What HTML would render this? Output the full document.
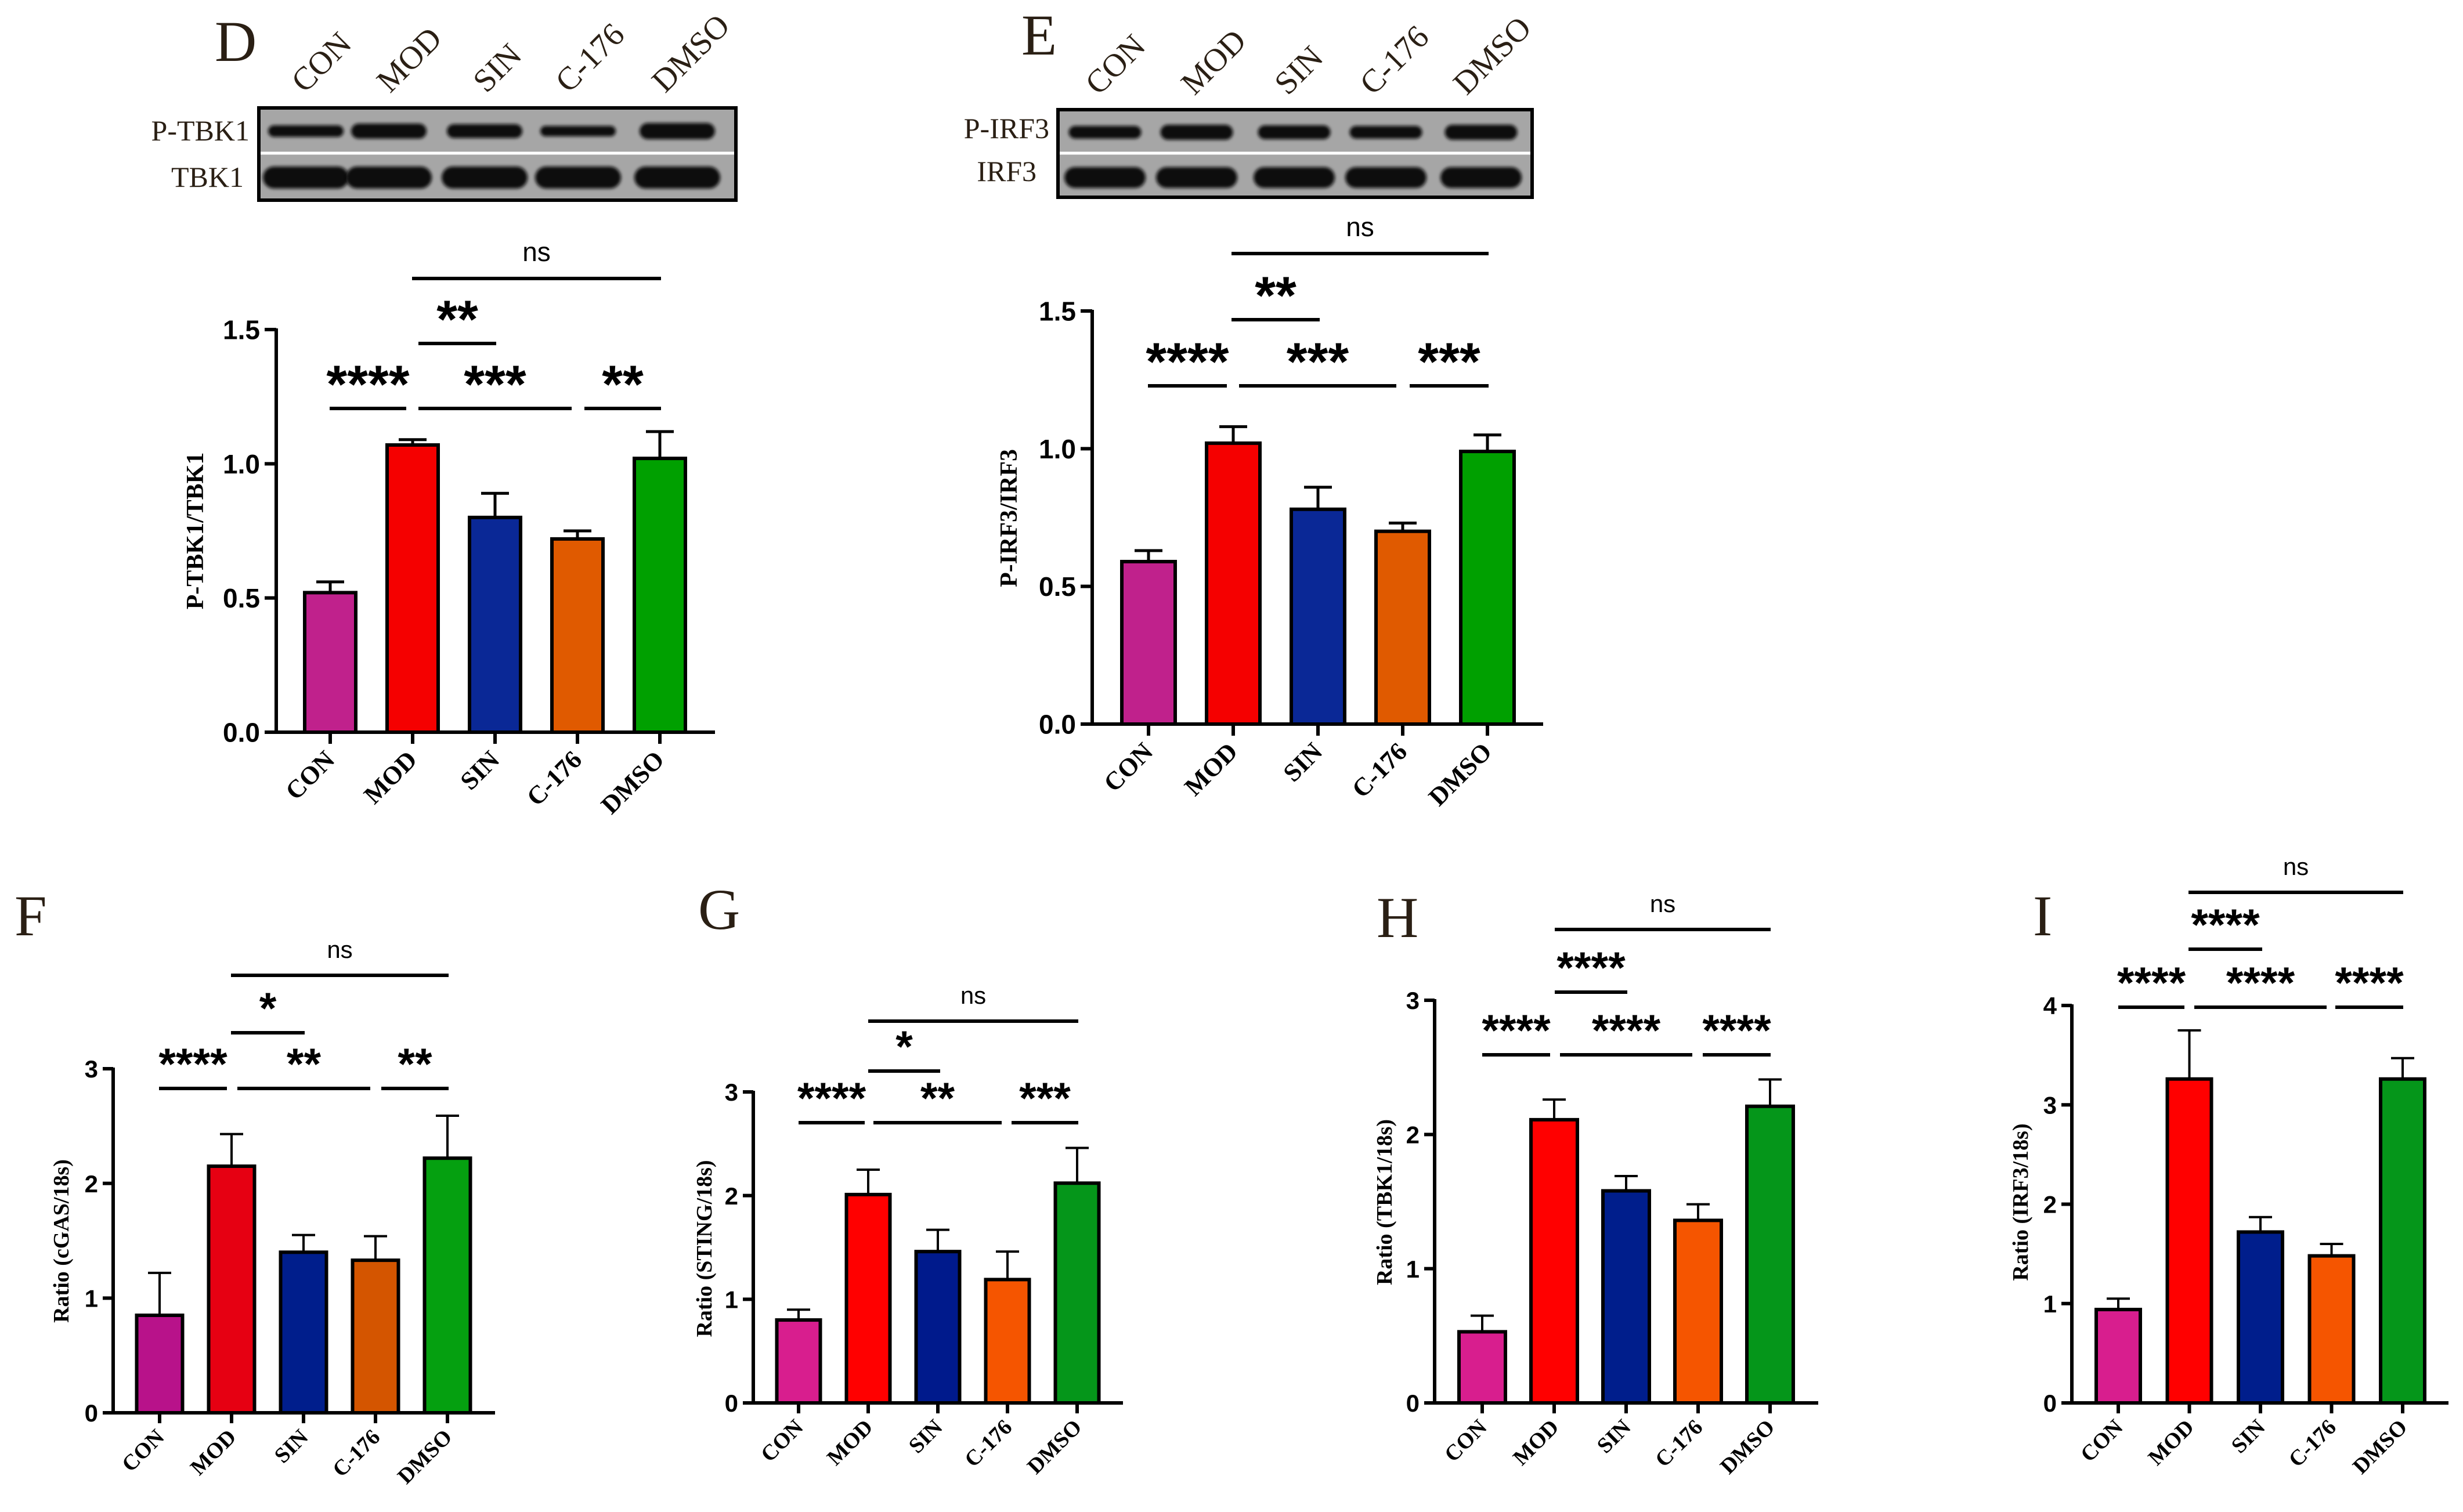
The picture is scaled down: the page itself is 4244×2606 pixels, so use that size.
<!DOCTYPE html>
<html><head><meta charset="utf-8"><style>
html,body{margin:0;padding:0;background:#fff;}
svg{display:block;}
</style></head><body>
<svg id="fig" xmlns="http://www.w3.org/2000/svg" width="4244" height="2606" viewBox="0 0 4244 2606">
<defs><filter id="blur" x="-10%" y="-50%" width="120%" height="200%"><feGaussianBlur stdDeviation="3"/></filter></defs>
</svg>
<script>
// ---- data ----
const categories = ["CON","MOD","SIN","C-176","DMSO"];
const dValues = [0.52,1.07,0.80,0.72,1.02];
const dErrors = [0.56,1.09,0.89,0.75,1.12];
const dTicks = ["0.0","0.5","1.0","1.5"];
const eValues = [0.59,1.02,0.78,0.70,0.99];
const eErrors = [0.63,1.08,0.86,0.73,1.05];
const eTicks = ["0.0","0.5","1.0","1.5"];
const fValues = [0.85,2.15,1.40,1.33,2.22];
const fErrors = [1.22,2.43,1.55,1.54,2.59];
const fTicks = ["0","1","2","3"];
const gValues = [0.80,2.01,1.46,1.19,2.12];
const gErrors = [0.90,2.25,1.67,1.46,2.46];
const gTicks = ["0","1","2","3"];
const hValues = [0.53,2.11,1.58,1.36,2.21];
const hErrors = [0.65,2.26,1.69,1.48,2.41];
const hTicks = ["0","1","2","3"];
const iValues = [0.94,3.26,1.72,1.48,3.26];
const iErrors = [1.05,3.75,1.87,1.60,3.47];
const iTicks = ["0","1","2","3","4"];

const NS="http://www.w3.org/2000/svg";
const svg=document.getElementById('fig');
function mk(tag,attrs,parent){const e=document.createElementNS(NS,tag);for(const k in attrs)e.setAttribute(k,attrs[k]);(parent||svg).appendChild(e);return e;}

function drawChart(L,values,errors,ticks,key){
  const g=mk('g',{});
  
  
  const max=parseFloat(ticks[ticks.length-1]);
  const yS=v=>L.y0-(v/max)*(L.y0-L.yTop);
  const xS=i=>L.x0c+i*L.step;
  values.forEach((v,i)=>{
    const cx=xS(i);
    const r=mk('rect',{x:cx-L.bw/2,y:yS(v),width:L.bw,height:L.y0-yS(v),fill:L.colors[i],stroke:'#000','stroke-width':L.sw},g);
    
    
    const e=mk('path',{d:`M${cx},${yS(v)}V${yS(errors[i])}M${cx-L.cap},${yS(errors[i])}H${cx+L.cap}`,stroke:'#000','stroke-width':L.esw,fill:'none'},g);
    
    
  });
  const ax=mk('path',{d:`M${L.ax},${L.yTop-2}V${L.y0}H${L.xEnd}`,stroke:'#000','stroke-width':L.asw,fill:'none'},g);
  
  
  ticks.forEach(t=>{
    const y=yS(parseFloat(t));
    mk('line',{x1:L.ax-L.tl,x2:L.ax,y1:y,y2:y,stroke:'#000','stroke-width':L.asw},g);
    const tx=mk('text',{x:L.ax-L.tl-8,y:y+L.tfs*0.36,'text-anchor':'end','font-family':'Liberation Sans, sans-serif','font-weight':'bold','font-size':L.tfs},g);
    tx.textContent=t;
    
    
  });
  categories.forEach((c,i)=>{
    const cx=xS(i);
    mk('line',{x1:cx,x2:cx,y1:L.y0,y2:L.y0+L.tl,stroke:'#000','stroke-width':L.asw},g);
    const tx=mk('text',{x:cx+L.xlx,y:L.y0+L.xly,'text-anchor':'end','font-family':'Liberation Serif, serif','font-weight':'bold','font-size':L.xfs,transform:`rotate(-45 ${cx+L.xlx} ${L.y0+L.xly})`},g);
    tx.textContent=c;
    
    
  });
  const yt=mk('text',{x:L.ytx,y:L.yty,'text-anchor':'middle','font-family':'Liberation Serif, serif','font-weight':'bold','font-size':L.yfs,transform:`rotate(-90 ${L.ytx} ${L.yty})`},g);
  yt.textContent=L.ytitle;
  
  
  L.brackets.forEach(b=>{
    const ln=mk('line',{x1:b[0],x2:b[1],y1:b[2],y2:b[2],stroke:'#000','stroke-width':L.bsw},g);
    
    
    const isNs=b[3]==='ns';
    const t=mk('text',{x:(b[0]+b[1])/2,y:isNs?b[2]-L.nsOff:b[2]-L.starOff,'text-anchor':'middle','font-family':'Liberation Sans, sans-serif','font-weight':isNs?'normal':'bold','font-size':isNs?L.nsfs:L.starfs},g);
    t.textContent=b[3];
    
    
  });
  const pl=mk('text',{x:L.lx,y:L.ly,'font-family':'Liberation Serif, serif','font-size':100,fill:'#2a1f14'},g);
  pl.textContent=L.letter;
  
  
}

function drawBlot(B,key){
  const g=mk('g',{});
  
  
  mk('rect',{x:B.x,y:B.y,width:B.w,height:B.h,fill:'#a6a6a6',stroke:'#000','stroke-width':6},g);
  mk('line',{x1:B.x+3,x2:B.x+B.w-3,y1:B.div,y2:B.div,stroke:'#fff','stroke-width':5},g);
  B.lanes.forEach((lx,i)=>{
    mk('rect',{x:lx-B.lw/2,y:B.b1y-B.b1h[i]/2,width:B.lw,height:B.b1h[i],rx:B.b1h[i]/2,fill:'#111',filter:'url(#blur)'},g);
    mk('rect',{x:lx-B.lw2/2,y:B.b2y-B.b2h/2,width:B.lw2,height:B.b2h,rx:B.b2h/2,fill:'#0a0a0a',filter:'url(#blur)'},g);
  });
  B.rowLabels.forEach(r=>{
    const t=mk('text',{x:r[1],y:r[2],'text-anchor':'end','font-family':'Liberation Serif, serif','font-size':50,fill:'#2a1f14'},g);
    t.textContent=r[0];
    
    
  });
  categories.forEach((c,i)=>{
    const x=B.laneLabelX[i],y=B.laneLabelY;
    const t=mk('text',{x:x,y:y,'font-family':'Liberation Serif, serif','font-size':56,fill:'#2a1f14',transform:`rotate(-45 ${x} ${y})`},g);
    t.textContent=c;
    
    
  });
}

const upperCommon={sw:6,esw:5,asw:6,tl:20,tfs:46,xfs:44,xlx:10,xly:50,yfs:42,bsw:6,nsOff:30,starOff:10,nsfs:46,starfs:92,cap:24};
const lowerCommon={sw:6,esw:4,asw:6,tl:18,tfs:42,xfs:38,xlx:10,xly:44,yfs:38,bsw:6,nsOff:30,starOff:16,nsfs:42,starfs:76,cap:20};

drawChart(Object.assign({},upperCommon,{key:'d',ax:476,yTop:568,y0:1262,xEnd:1232,x0c:569,step:142,bw:88,
  colors:['#c0218c','#f50000','#0a2896','#e05a00','#00a000'],ytitle:'P-TBK1/TBK1',ytx:350,yty:915,letter:'D',lx:370,ly:105,
  brackets:[[710,1139,480,'ns'],[721,855,592,'**'],[568,700,704,'****'],[721,985,704,'***'],[1007,1139,704,'**']]}),dValues,dErrors,dTicks,'d');
drawChart(Object.assign({},upperCommon,{key:'e',ax:1882,yTop:536,y0:1248,xEnd:2659,x0c:1979,step:146,bw:92,
  colors:['#c0218c','#f50000','#0a2896','#e05a00','#00a000'],ytitle:'P-IRF3/IRF3',ytx:1752,yty:893,letter:'E',lx:1760,ly:94,
  brackets:[[2122,2565,437,'ns'],[2122,2274,551,'**'],[1978,2114,665,'****'],[2135,2406,665,'***'],[2429,2565,665,'***']]}),eValues,eErrors,eTicks,'e');
drawChart(Object.assign({},lowerCommon,{key:'f',ax:195,yTop:1842,y0:2435,xEnd:853,x0c:275,step:124,bw:79,
  colors:['#b8128a','#e60012','#001e8c','#d45500','#05a010'],ytitle:'Ratio (cGAS/18s)',ytx:118,yty:2139,letter:'F',lx:25,ly:1612,
  brackets:[[398,773,1681,'ns'],[398,525,1780,'*'],[274,391,1876,'****'],[409,638,1876,'**'],[657,773,1876,'**']]}),fValues,fErrors,fTicks,'f');
drawChart(Object.assign({},lowerCommon,{key:'g',ax:1298,yTop:1882,y0:2418,xEnd:1935,x0c:1376,step:120,bw:75,
  colors:['#d81e8e','#ff0000','#001a8c','#f55500','#05961a'],ytitle:'Ratio (STING/18s)',ytx:1226,yty:2152,letter:'G',lx:1203,ly:1601,
  brackets:[[1496,1858,1760,'ns'],[1496,1620,1846,'*'],[1376,1490,1935,'****'],[1505,1726,1935,'**'],[1743,1858,1935,'***']]}),gValues,gErrors,gTicks,'g');
drawChart(Object.assign({},lowerCommon,{key:'h',ax:2472,yTop:1724,y0:2418,xEnd:3133,x0c:2554,step:124,bw:80,
  colors:['#d81e8e','#ff0000','#001e8c','#f55500','#05961a'],ytitle:'Ratio (TBK1/18s)',ytx:2398,yty:2072,letter:'H',lx:2372,ly:1615,
  brackets:[[2679,3051,1602,'ns'],[2679,2804,1710,'****'],[2554,2671,1818,'****'],[2688,2916,1818,'****'],[2934,3051,1818,'****']]}),hValues,hErrors,hTicks,'h');
drawChart(Object.assign({},lowerCommon,{key:'i',ax:3570,yTop:1733,y0:2418,xEnd:4219,x0c:3650,step:122.5,bw:76,
  colors:['#d81e8e','#ff0000','#001e8c','#f55500','#05961a'],ytitle:'Ratio (IRF3/18s)',ytx:3494,yty:2072,letter:'I',lx:3503,ly:1612,
  brackets:[[3771,4141,1538,'ns'],[3771,3898,1636,'****'],[3650,3764,1736,'****'],[3781,4009,1736,'****'],[4024,4141,1736,'****']]}),iValues,iErrors,iTicks,'i');

drawBlot({x:446,y:186,w:822,h:159,div:264,lanes:[527,670,835,996,1167],lw:130,lw2:148,b1y:226,b2y:306,b2h:38,
  b1h:[20,26,24,18,28],rowLabels:[['P-TBK1',430,242],['TBK1',420,322]],laneLabelX:[525,672,838,980,1146],laneLabelY:162},'d');
drawBlot({x:1823,y:189,w:817,h:151,div:264,lanes:[1904,2062,2230,2388,2552],lw:125,lw2:140,b2y:306,b2h:36,b1y:228,
  b1h:[22,26,24,22,26],rowLabels:[['P-IRF3',1808,238],['IRF3',1786,312]],laneLabelX:[1893,2058,2219,2366,2527],laneLabelY:166},'e');
</script>
</body></html>
